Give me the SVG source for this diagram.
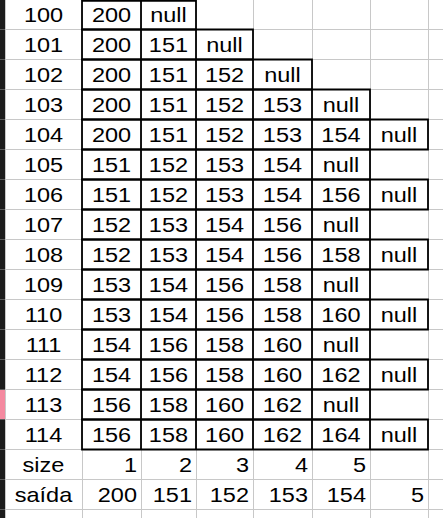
<svg xmlns="http://www.w3.org/2000/svg" width="443" height="518" viewBox="0 0 443 518">
<style>
.g{stroke:#c8c8c8;stroke-width:1;fill:none}
.b{stroke:#000;stroke-width:1.8;fill:none}
text{font-family:"Liberation Sans",Arial,sans-serif;font-size:21px;fill:#000}
.c{text-anchor:middle}
.r{text-anchor:end}
</style>
<rect x="0" y="0" width="443" height="518" fill="#fff"/>
<g id="strip">
<rect x="0" y="0" width="5" height="518" fill="#1c1c1c"/>
<rect x="0" y="389.5" width="5" height="30" fill="#f4899f"/>
<path stroke="#5a5a5a" stroke-width="1" d="M0 29.5H5M0 59.5H5M0 89.5H5M0 119.5H5M0 149.5H5M0 179.5H5M0 209.5H5M0 239.5H5M0 269.5H5M0 299.5H5M0 329.5H5M0 359.5H5M0 389.5H5M0 419.5H5M0 449.5H5M0 479.5H5M0 509.5H5"/>
</g>
<g id="gridlines" class="g">
<path d="M5 29.5H443M5 59.5H443M5 89.5H443M5 119.5H443M5 149.5H443M5 179.5H443M5 209.5H443M5 239.5H443M5 269.5H443M5 299.5H443M5 329.5H443M5 359.5H443M5 389.5H443M5 419.5H443M5 449.5H443M5 479.5H443M5 509.5H443"/>
<path d="M5.5 0V518M82.5 0V518M141.5 0V518M196.5 0V518M253.5 0V518M312.5 0V518M370.5 0V518M428.5 0V518"/>
</g>
<g id="borders" class="b">
<path d="M82 0.9H196V29.5H82ZM141 0.9V29.5"/>
<path d="M82 29.5H253V59.5H82ZM141 29.5V59.5M196 29.5V59.5"/>
<path d="M82 59.5H312V89.5H82ZM141 59.5V89.5M196 59.5V89.5M253 59.5V89.5"/>
<path d="M82 89.5H370V119.5H82ZM141 89.5V119.5M196 89.5V119.5M253 89.5V119.5M312 89.5V119.5"/>
<path d="M82 119.5H428V149.5H82ZM141 119.5V149.5M196 119.5V149.5M253 119.5V149.5M312 119.5V149.5M370 119.5V149.5"/>
<path d="M82 149.5H370V179.5H82ZM141 149.5V179.5M196 149.5V179.5M253 149.5V179.5M312 149.5V179.5"/>
<path d="M82 179.5H428V209.5H82ZM141 179.5V209.5M196 179.5V209.5M253 179.5V209.5M312 179.5V209.5M370 179.5V209.5"/>
<path d="M82 209.5H370V239.5H82ZM141 209.5V239.5M196 209.5V239.5M253 209.5V239.5M312 209.5V239.5"/>
<path d="M82 239.5H428V269.5H82ZM141 239.5V269.5M196 239.5V269.5M253 239.5V269.5M312 239.5V269.5M370 239.5V269.5"/>
<path d="M82 269.5H370V299.5H82ZM141 269.5V299.5M196 269.5V299.5M253 269.5V299.5M312 269.5V299.5"/>
<path d="M82 299.5H428V329.5H82ZM141 299.5V329.5M196 299.5V329.5M253 299.5V329.5M312 299.5V329.5M370 299.5V329.5"/>
<path d="M82 329.5H370V359.5H82ZM141 329.5V359.5M196 329.5V359.5M253 329.5V359.5M312 329.5V359.5"/>
<path d="M82 359.5H428V389.5H82ZM141 359.5V389.5M196 359.5V389.5M253 359.5V389.5M312 359.5V389.5M370 359.5V389.5"/>
<path d="M82 389.5H370V419.5H82ZM141 389.5V419.5M196 389.5V419.5M253 389.5V419.5M312 389.5V419.5"/>
<path d="M82 419.5H428V449.5H82ZM141 419.5V449.5M196 419.5V449.5M253 419.5V449.5M312 419.5V449.5M370 419.5V449.5"/>
</g>
<g id="texts" transform="scale(1.12 1)">
<g id="row100"><text class="c" x="38.84" y="22.5">100</text><text class="c" x="99.55" y="22.5">200</text><text class="c" x="150.45" y="22.5">null</text></g>
<g id="row101"><text class="c" x="38.84" y="52.5">101</text><text class="c" x="99.55" y="52.5">200</text><text class="c" x="150.45" y="52.5">151</text><text class="c" x="200.45" y="52.5">null</text></g>
<g id="row102"><text class="c" x="38.84" y="82.5">102</text><text class="c" x="99.55" y="82.5">200</text><text class="c" x="150.45" y="82.5">151</text><text class="c" x="200.45" y="82.5">152</text><text class="c" x="252.23" y="82.5">null</text></g>
<g id="row103"><text class="c" x="38.84" y="112.5">103</text><text class="c" x="99.55" y="112.5">200</text><text class="c" x="150.45" y="112.5">151</text><text class="c" x="200.45" y="112.5">152</text><text class="c" x="252.23" y="112.5">153</text><text class="c" x="304.46" y="112.5">null</text></g>
<g id="row104"><text class="c" x="38.84" y="142.5">104</text><text class="c" x="99.55" y="142.5">200</text><text class="c" x="150.45" y="142.5">151</text><text class="c" x="200.45" y="142.5">152</text><text class="c" x="252.23" y="142.5">153</text><text class="c" x="304.46" y="142.5">154</text><text class="c" x="356.25" y="142.5">null</text></g>
<g id="row105"><text class="c" x="38.84" y="172.5">105</text><text class="c" x="99.55" y="172.5">151</text><text class="c" x="150.45" y="172.5">152</text><text class="c" x="200.45" y="172.5">153</text><text class="c" x="252.23" y="172.5">154</text><text class="c" x="304.46" y="172.5">null</text></g>
<g id="row106"><text class="c" x="38.84" y="202.5">106</text><text class="c" x="99.55" y="202.5">151</text><text class="c" x="150.45" y="202.5">152</text><text class="c" x="200.45" y="202.5">153</text><text class="c" x="252.23" y="202.5">154</text><text class="c" x="304.46" y="202.5">156</text><text class="c" x="356.25" y="202.5">null</text></g>
<g id="row107"><text class="c" x="38.84" y="232.5">107</text><text class="c" x="99.55" y="232.5">152</text><text class="c" x="150.45" y="232.5">153</text><text class="c" x="200.45" y="232.5">154</text><text class="c" x="252.23" y="232.5">156</text><text class="c" x="304.46" y="232.5">null</text></g>
<g id="row108"><text class="c" x="38.84" y="262.5">108</text><text class="c" x="99.55" y="262.5">152</text><text class="c" x="150.45" y="262.5">153</text><text class="c" x="200.45" y="262.5">154</text><text class="c" x="252.23" y="262.5">156</text><text class="c" x="304.46" y="262.5">158</text><text class="c" x="356.25" y="262.5">null</text></g>
<g id="row109"><text class="c" x="38.84" y="292.5">109</text><text class="c" x="99.55" y="292.5">153</text><text class="c" x="150.45" y="292.5">154</text><text class="c" x="200.45" y="292.5">156</text><text class="c" x="252.23" y="292.5">158</text><text class="c" x="304.46" y="292.5">null</text></g>
<g id="row110"><text class="c" x="38.84" y="322.5">110</text><text class="c" x="99.55" y="322.5">153</text><text class="c" x="150.45" y="322.5">154</text><text class="c" x="200.45" y="322.5">156</text><text class="c" x="252.23" y="322.5">158</text><text class="c" x="304.46" y="322.5">160</text><text class="c" x="356.25" y="322.5">null</text></g>
<g id="row111"><text class="c" x="38.84" y="352.5">111</text><text class="c" x="99.55" y="352.5">154</text><text class="c" x="150.45" y="352.5">156</text><text class="c" x="200.45" y="352.5">158</text><text class="c" x="252.23" y="352.5">160</text><text class="c" x="304.46" y="352.5">null</text></g>
<g id="row112"><text class="c" x="38.84" y="382.5">112</text><text class="c" x="99.55" y="382.5">154</text><text class="c" x="150.45" y="382.5">156</text><text class="c" x="200.45" y="382.5">158</text><text class="c" x="252.23" y="382.5">160</text><text class="c" x="304.46" y="382.5">162</text><text class="c" x="356.25" y="382.5">null</text></g>
<g id="row113"><text class="c" x="38.84" y="412.5">113</text><text class="c" x="99.55" y="412.5">156</text><text class="c" x="150.45" y="412.5">158</text><text class="c" x="200.45" y="412.5">160</text><text class="c" x="252.23" y="412.5">162</text><text class="c" x="304.46" y="412.5">null</text></g>
<g id="row114"><text class="c" x="38.84" y="442.5">114</text><text class="c" x="99.55" y="442.5">156</text><text class="c" x="150.45" y="442.5">158</text><text class="c" x="200.45" y="442.5">160</text><text class="c" x="252.23" y="442.5">162</text><text class="c" x="304.46" y="442.5">164</text><text class="c" x="356.25" y="442.5">null</text></g>
<g id="rowsize"><text class="c" x="38.84" y="472.5">size</text><text class="r" x="122.32" y="472.5">1</text><text class="r" x="171.43" y="472.5">2</text><text class="r" x="222.32" y="472.5">3</text><text class="r" x="275" y="472.5">4</text><text class="r" x="326.79" y="472.5">5</text></g>
<g id="rowsaida"><text class="c" x="38.84" y="502.5">saída</text><text class="r" x="122.32" y="502.5">200</text><text class="r" x="171.43" y="502.5">151</text><text class="r" x="222.32" y="502.5">152</text><text class="r" x="275" y="502.5">153</text><text class="r" x="326.79" y="502.5">154</text><text class="r" x="378.57" y="502.5">5</text></g>
</g>
</svg>
